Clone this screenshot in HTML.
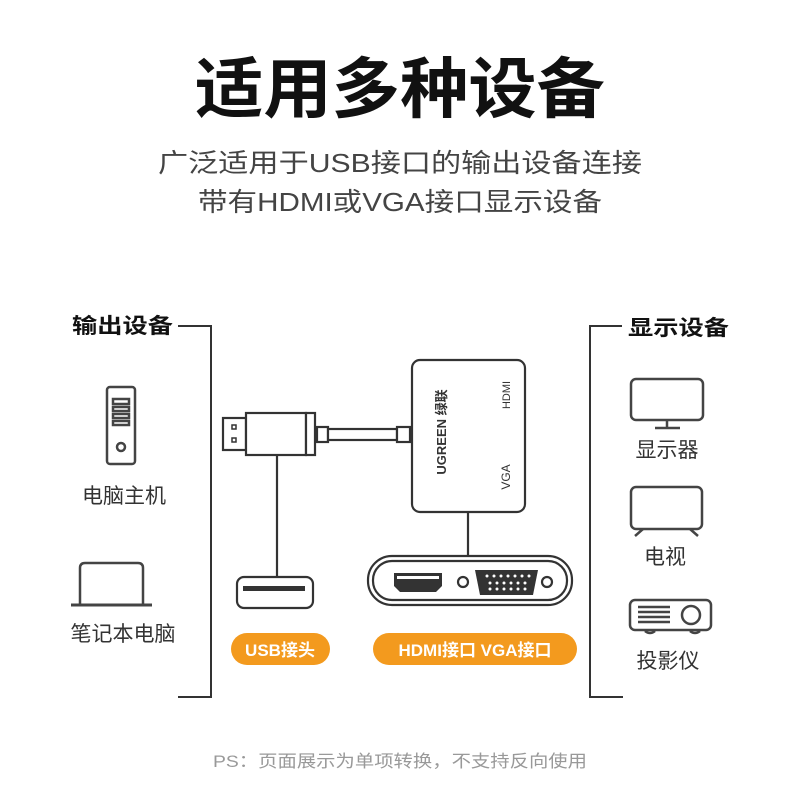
<!DOCTYPE html>
<html><head><meta charset="utf-8"><style>
html,body{margin:0;padding:0;background:#fff}
svg{display:block}
text{font-family:"Liberation Sans","Noto Sans CJK SC",sans-serif}
</style></head><body>
<svg width="800" height="800" viewBox="0 0 800 800" xmlns="http://www.w3.org/2000/svg">
<rect width="800" height="800" fill="#fff"/>
<text x="400" y="112" text-anchor="middle" font-size="66" font-weight="bold" fill="#111" textLength="410" lengthAdjust="spacingAndGlyphs">适用多种设备</text>
<text x="400" y="172" text-anchor="middle" font-size="26" fill="#444" textLength="484" lengthAdjust="spacingAndGlyphs">广泛适用于USB接口的输出设备连接</text>
<text x="400" y="211" text-anchor="middle" font-size="26" fill="#444" textLength="404" lengthAdjust="spacingAndGlyphs">带有HDMI或VGA接口显示设备</text>

<g stroke="#333" stroke-width="2" fill="none">
<!-- left bracket -->
<path d="M178 326H211V697H178"/>
<!-- right bracket -->
<path d="M622 326H590V697H623"/>
</g>
<text x="72" y="333" font-size="21" font-weight="bold" fill="#111" textLength="101" lengthAdjust="spacingAndGlyphs">输出设备</text>
<text x="628" y="335" font-size="21" font-weight="bold" fill="#111" textLength="101" lengthAdjust="spacingAndGlyphs">显示设备</text>

<g stroke="#444" stroke-width="2.5" fill="none">
<!-- tower -->
<rect x="107" y="387" width="28" height="77" rx="3"/>
<rect x="113" y="399" width="16" height="5"/>
<rect x="113" y="407" width="16" height="4"/>
<rect x="113" y="414" width="16" height="4"/>
<rect x="113" y="421" width="16" height="4"/>
<circle cx="121" cy="447" r="4"/>
<!-- laptop -->
<path d="M80 605V568Q80 563 85 563H138Q143 563 143 568V605"/>
<path d="M71 605H152" stroke-width="3"/>
<!-- monitor -->
<rect x="631" y="379" width="72" height="41" rx="5"/>
<path d="M667 420V427M655 428H680"/>
<!-- tv -->
<rect x="631" y="487" width="71" height="42" rx="5"/>
<path d="M643 529L635 536M690 529L698 536"/>
<!-- projector -->
<rect x="630" y="600" width="81" height="30" rx="5"/>
<path d="M638 607H670M638 612H670M638 617H670M638 622H670"/>
<circle cx="691" cy="615" r="9"/>
<path d="M645 631q5 4 10 0M690 631q5 4 10 0"/>
</g>
<g font-size="21" fill="#333" text-anchor="middle">
<text x="124" y="503">电脑主机</text>
<text x="123" y="641">笔记本电脑</text>
<text x="667" y="457">显示器</text>
<text x="665" y="564">电视</text>
<text x="668" y="668">投影仪</text>
</g>

<!-- adapter -->
<g stroke="#333" stroke-width="2.2" fill="#fff">
<rect x="223" y="418" width="23" height="32"/>
<rect x="246" y="413" width="60" height="42"/>
<rect x="306" y="413" width="9" height="42"/>
<rect x="317" y="427" width="11" height="15"/>
<rect x="328" y="429" width="69" height="11"/>
<rect x="397" y="427" width="13" height="15"/>
<rect x="412" y="360" width="113" height="152" rx="8"/>
<path d="M277 455V577M468 512V556" fill="none"/>
<rect x="237" y="577" width="76" height="31" rx="7"/>
<rect x="368" y="556" width="204" height="49" rx="24"/>
<rect x="373" y="561" width="194" height="39" rx="19"/>
<circle cx="463" cy="582" r="5"/>
<circle cx="547" cy="582" r="5"/>
</g>
<rect x="232" y="425" width="4" height="4" fill="none" stroke="#333" stroke-width="1.5"/>
<rect x="232" y="438" width="4" height="4" fill="none" stroke="#333" stroke-width="1.5"/>
<rect x="243" y="586" width="62" height="5" fill="#333"/>
<path d="M394 573H442V586L436 592H400L394 586Z" fill="#333"/>
<rect x="397" y="576" width="42" height="3" fill="#fff"/>
<path d="M475 570H538L533 595H480Z" fill="#333"/>
<g fill="#fff">
<circle cx="487" cy="576" r="1.5"/><circle cx="494" cy="576" r="1.5"/><circle cx="501" cy="576" r="1.5"/><circle cx="508" cy="576" r="1.5"/><circle cx="515" cy="576" r="1.5"/><circle cx="522" cy="576" r="1.5"/><circle cx="529" cy="576" r="1.5"/>
<circle cx="490" cy="583" r="1.5"/><circle cx="497" cy="583" r="1.5"/><circle cx="504" cy="583" r="1.5"/><circle cx="511" cy="583" r="1.5"/><circle cx="518" cy="583" r="1.5"/><circle cx="525" cy="583" r="1.5"/>
<circle cx="490" cy="589" r="1.5"/><circle cx="497" cy="589" r="1.5"/><circle cx="504" cy="589" r="1.5"/><circle cx="511" cy="589" r="1.5"/><circle cx="518" cy="589" r="1.5"/><circle cx="525" cy="589" r="1.5"/>
</g>
<text transform="translate(446 432) rotate(-90)" text-anchor="middle" font-size="13" font-weight="bold" fill="#333">UGREEN 绿联</text>
<text transform="translate(510 395) rotate(-90)" text-anchor="middle" font-size="11" fill="#333" font-family="Liberation Serif">HDMI</text>
<text transform="translate(510 477) rotate(-90)" text-anchor="middle" font-size="12" fill="#333">VGA</text>

<!-- pills -->
<rect x="231" y="633" width="99" height="32" rx="16" fill="#f39a1e"/>
<rect x="373" y="633" width="204" height="32" rx="16" fill="#f39a1e"/>
<text x="280" y="656" text-anchor="middle" font-size="17" font-weight="bold" fill="#fff">USB接头</text>
<text x="475" y="656" text-anchor="middle" font-size="17" font-weight="bold" fill="#fff">HDMI接口  VGA接口</text>

<text x="400" y="767" text-anchor="middle" font-size="17" fill="#999" textLength="374" lengthAdjust="spacingAndGlyphs">PS：页面展示为单项转换，不支持反向使用</text>
</svg>
</body></html>
